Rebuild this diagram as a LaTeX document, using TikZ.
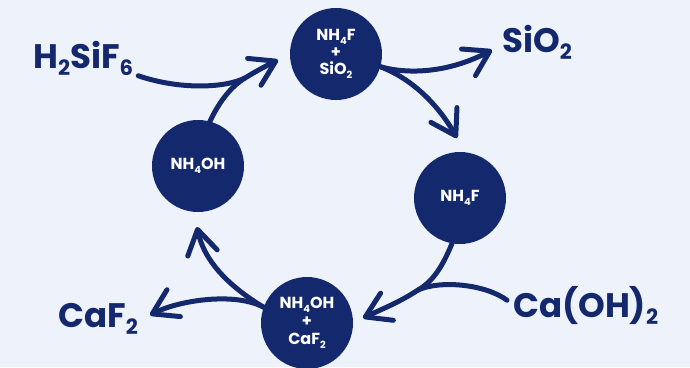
\documentclass[tikz,border=0pt]{standalone}
\usepackage{fontspec}
\setmainfont{Poppins}
\usetikzlibrary{arrows.meta}
\definecolor{navy}{RGB}{20,40,110}
\definecolor{paper}{RGB}{238,243,251}
\newcommand{\chsub}[1]{\raisebox{-0.22em}{\scalebox{0.62}{#1}}}

\begin{document}
\begin{tikzpicture}[x=1pt,y=-1pt,
    cyc/.style={circle,fill=navy,minimum size=92pt,inner sep=0pt,text=white,
        font=\bfseries\fontsize{16}{18}\selectfont,align=center},
    chem/.style={text=navy,inner sep=0pt,anchor=base west,
        font=\bfseries\fontsize{34}{36}\selectfont},
    flow/.style={navy,line width=5pt,line cap=round},
    head/.style={flow,-{Straight Barb[length=24pt,width=30pt,round]}}]
    \fill[paper] (0,0) rectangle (690,367);
    \useasboundingbox (0,0) rectangle (690,367);

    \node[cyc] (fsio) at (336,54) {NH\chsub{4}F\\[-1pt]+\\[-1pt]SiO\chsub{2}};
    \node[cyc] (nhoh) at (198,166) {NH\chsub{4}OH};
    \node[cyc] (nhf) at (460,198) {NH\chsub{4}F};
    \node[cyc] (ohcaf) at (307,323) {NH\chsub{4}OH\\+\\CaF\chsub{2}};

    \node[chem] (hsif) at (33,68) {H\chsub{2}SiF\chsub{6}};
    \node[chem] (sio) at (502,52) {SiO\chsub{2}};
    \node[chem] (caf) at (58,327) {CaF\chsub{2}};
    \node[chem] (caoh) at (513,317) {Ca(OH)\chsub{2}};

    \coordinate (joina) at (245,78);
    \coordinate (tipa) at (278,60);
    \coordinate (tipsio) at (492,50);
    \coordinate (tipnhf) at (457,138);
    \coordinate (joinc) at (418,290);
    \coordinate (tipc) at (363,318);
    \coordinate (tipcaf) at (150,315);
    \coordinate (tipoh) at (197,227);

    % H2SiF6 + NH4OH -> NH4F + SiO2
    \draw[flow] ([xshift=5pt]hsif.south east) .. controls (180,90) and (225,88) .. (joina);
    \draw[head] (nhoh.75) .. controls (220,100) and (232,86) .. (joina) .. controls (258,70) and (266,66) .. (tipa);

    % NH4F + SiO2 -> SiO2, NH4F
    \draw[head] (fsio.-16) .. controls (410,75) and (450,72) .. (tipsio);
    \draw[head] (fsio.-16) .. controls (415,80) and (440,108) .. (tipnhf);

    % NH4F + Ca(OH)2 -> NH4OH + CaF2
    \draw[flow] ([xshift=-6pt,yshift=5pt]caoh.west) .. controls (485,284) and (440,280) .. (joinc);
    \draw[head] (nhf.-100) .. controls (442,268) and (432,282) .. (joinc) .. controls (400,302) and (380,310) .. (tipc);

    % NH4OH + CaF2 -> CaF2, NH4OH
    \draw[head] (ohcaf.160) .. controls (235,292) and (180,300) .. (tipcaf);
    \draw[head] (ohcaf.160) .. controls (235,290) and (205,265) .. (tipoh);
\end{tikzpicture}
\end{document}
